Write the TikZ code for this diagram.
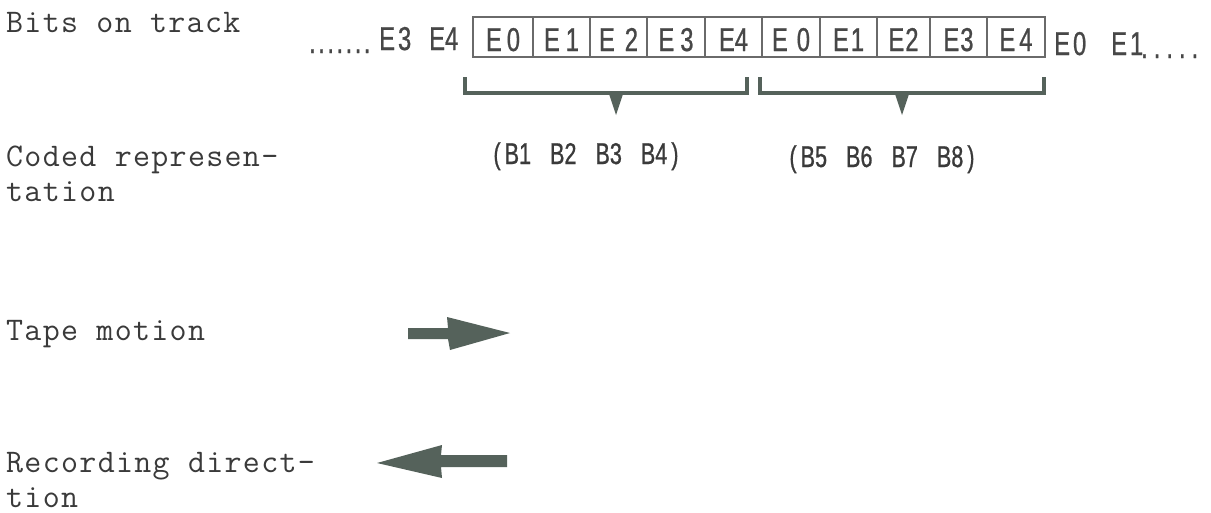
\documentclass[tikz,border=0pt]{standalone}
\usepackage{fontspec}
\newfontfamily\condfont[FakeStretch=0.72,FakeBold=0.8]{Liberation Sans}
\newfontfamily\twfont[LetterSpace=4]{Latin Modern Mono}
\definecolor{ink}{HTML}{3A3A3A}
\definecolor{printgray}{HTML}{474747}
\definecolor{rulegray}{HTML}{6A6A6A}
\definecolor{markgray}{HTML}{55625B}
% code symbol: letter E, a kern, then the digit
\newcommand\ecode[2]{E\kern#1pt #2}
\newcommand\dotrun[2]{\foreach \i in {1,...,#1}{.\kern#2pt}}

\begin{document}
\begin{tikzpicture}[x=1pt,y=-1pt,
  sidetext/.style={font=\twfont\fontsize{33}{35}\selectfont, text=ink,
    anchor=base west, inner sep=0, align=left},
  bittext/.style={font=\condfont\fontsize{33}{34}\selectfont, text=printgray, inner sep=0},
  cell/.style={bittext, draw=rulegray, line width=2.2pt, minimum height=40pt,
    text height=28pt, text depth=0pt},
  grouptext/.style={font=\condfont\fontsize{30}{32}\selectfont, text=ink,
    anchor=base, inner sep=0},
  brace/.style={draw=markgray, line width=4pt, line join=miter},
  pointer/.style={fill=markgray},
  heavy/.style={fill=markgray}
]
\useasboundingbox[fill=white] (0,0) rectangle (1211,512);

% row labels (a two-line node sits on the baseline of its last line)
\node[sidetext] (lbits) at (6,32) {Bits on track};
\node[sidetext] (lcoded) at (6,201) {Coded represen-\\tation};
\node[sidetext] (ltape) at (6,340) {Tape motion};
\node[sidetext] (lrec) at (6,507) {Recording direct-\\tion};

% bits on the track: two framed groups of five
\node[cell, minimum width=60pt] (c1) at (503,37) {\ecode{5}{0}};
\node[cell, minimum width=57pt] (c2) at (561.5,37) {\ecode{6}{1}};
\node[cell, minimum width=57pt] (c3) at (618.5,37) {\ecode{10}{2}};
\node[cell, minimum width=58pt] (c4) at (676,37) {\ecode{6}{3}};
\node[cell, minimum width=57pt] (c5) at (733.5,37) {\ecode{0}{4}};
\node[cell, minimum width=58pt] (c6) at (791,37) {\ecode{9}{0}};
\node[cell, minimum width=57pt] (c7) at (848.5,37) {\ecode{2}{1}};
\node[cell, minimum width=53pt] (c8) at (903.5,37) {\ecode{1}{2}};
\node[cell, minimum width=57pt] (c9) at (958.5,37) {\ecode{1}{3}};
\node[cell, minimum width=58pt] (c10) at (1016,37) {\ecode{4}{4}};

% neighbouring symbols outside the frames
\node[bittext, anchor=base west] (pdots) at (309,53) {\dotrun{7}{2.5}};
\node[bittext, anchor=base west] (pe3) at (379,50) {\ecode{3}{3}};
\node[bittext, anchor=base west] (pe4) at (429,50) {\ecode{0}{4}};
\node[bittext, anchor=base west] (ne0) at (1054,55) {\ecode{3}{0}};
\node[bittext, anchor=base west] (ne1) at (1111,55) {\ecode{3}{1}};
\node[bittext, anchor=base west] (ndots) at (1141,58) {\dotrun{5}{6}};

% brackets gathering each group
\coordinate (k1l) at (465,77);
\coordinate (k1r) at (747,77);
\coordinate (k2l) at (760,77);
\coordinate (k2r) at (1044,77);
\draw[brace] (k1l) -- (k1l |- 0,93) -- (k1r |- 0,93) -- (k1r);
\draw[brace] (k2l) -- (k2l |- 0,93) -- (k2r |- 0,93) -- (k2r);
\fill[pointer] (609,94) -- (623,94) -- (616,115) -- cycle;
\fill[pointer] (895,94) -- (909,94) -- (902,115) -- cycle;

% coded bytes
\node[grouptext] (g1) at (586,164) {(\kern4pt B1\hspace{19pt}B2\hspace{19pt}B3\hspace{19pt}B4\kern4pt)};
\node[grouptext] (g2) at (882,167) {(\kern4pt B5\hspace{19pt}B6\hspace{19pt}B7\hspace{19pt}B8\kern4pt)};

% tape motion arrow (to the right)
\fill[heavy] (408,328) -- (448,328) -- (447,317) -- (510,333) -- (450,350)
  -- (448,339) -- (408,339) -- cycle;
% recording direction arrow (to the left)
\fill[heavy] (507,455) -- (441,455) -- (442,445) -- (377,463) -- (442,478)
  -- (441,467) -- (507,467) -- cycle;
\end{tikzpicture}
\end{document}
